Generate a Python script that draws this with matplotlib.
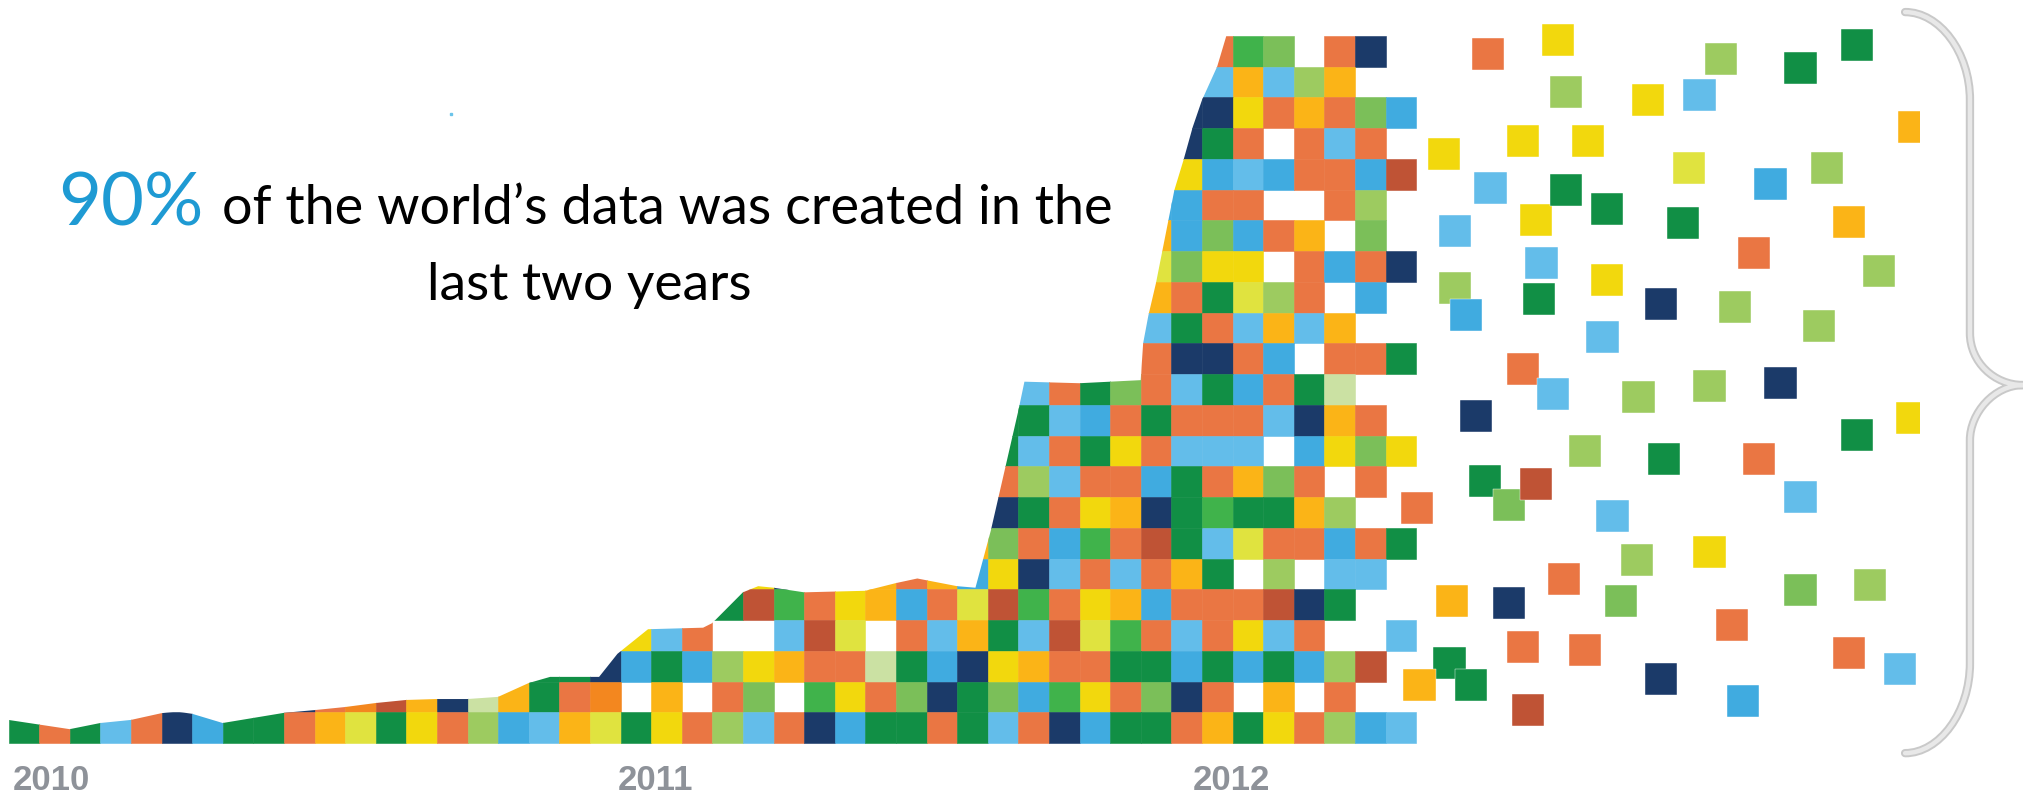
import matplotlib
matplotlib.use("Agg")
import matplotlib.pyplot as plt
from matplotlib.patches import Rectangle, Polygon, PathPatch
from matplotlib.collections import PatchCollection
from matplotlib.path import Path

# colour codes used in the mosaic
COLORS = {
    "G": "#118F45",  # dark green
    "g": "#40B34B",  # green
    "m": "#7BBF59",  # mid green
    "l": "#9DCB60",  # light green
    "c": "#CBE1A3",  # pale green
    "Y": "#F2D80D",  # yellow
    "y": "#E0E33F",  # lime yellow
    "O": "#EA7643",  # orange
    "o": "#FBB417",  # amber
    "a": "#F3871F",  # dark orange
    "R": "#BF5335",  # brick
    "B": "#40ABE0",  # blue
    "b": "#63BDEA",  # light blue
    "N": "#1B3A69",  # navy
}

# mosaic: row -> (first column, colour codes to the last column), "." = no cell
MOSAIC = {
    22: (39, "Ogm.ON."),
    21: (39, "boblo.."),
    20: (38, "NNYOoOmB"),
    19: (38, "NGO.ObO."),
    18: (38, "YBbBOOBR"),
    17: (37, "BBOO..Ol."),
    16: (37, "oBmBOo.m."),
    15: (37, "ymYY.OBON"),
    14: (37, "oOGylO.B."),
    13: (37, "bGObobo.."),
    12: (37, "ONNOB.OOG"),
    11: (33, "bOGmObGBOGc.."),
    10: (32, "GGbBOGOOObNoO."),
    9: (32, "GbOGYObbb.BYmY"),
    8: (32, "OlbOOBGOomO.O."),
    7: (32, "NGOYoNGgGGol.."),
    6: (31, "omOBgORGbyOOBOG"),
    5: (24, "YNOooOo" + "BYNbObOoG.l.bb."),
    4: (23, "GRgOYoBO" + "yRgOYoBOOORNG.."),
    3: (20, "YbO..bRy.Ob" + "oGbRygObOYbO..b"),
    2: (17, "GGNBGBlYoOOcGB" + "NYoOOGGBGBGBlR."),
    1: (9, "NOaRoNcoGOa.o.Om.gYOmN" + "GmBgYOmNO.o.O.."),
    0: (0, "GOGbONBGGOoyGYO" + "lBboyGYOlbONBGGO" + "GbONBGGOoGYOlBb"),
}

# top outline of the data volume (column, rows)
env_x = [0, 1, 2, 3, 4, 5, 5.5, 6, 7, 9, 10, 11, 12, 13, 14, 15, 16, 17, 17.7,
         19.3, 19.9, 20.9, 22.7, 23.0, 24.0, 24.5, 25.0, 26.0, 28.0, 29.0, 29.7,
         31.0, 31.6, 32.1, 33.0, 33.2, 35.0, 37.0, 37.08, 37.25, 37.5, 38.1,
         38.4, 38.7, 39.0, 39.5, 39.8]
env_y = [0.75, 0.6, 0.45, 0.65, 0.75, 0.97, 1.02, 0.95, 0.65, 0.98, 1.07, 1.17,
         1.3, 1.4, 1.43, 1.43, 1.5, 1.95, 2.15, 2.15, 2.9, 3.7, 3.75, 3.9, 4.9,
         5.1, 5.05, 4.9, 4.95, 5.2, 5.35, 5.1, 5.05, 6.9, 10.8, 11.75, 11.7,
         11.8, 13.0, 13.9, 14.96, 17.98, 18.96, 20.03, 20.9, 22.0, 23.0]

# scattered squares (centre column, centre row, colour code)
sq_x = [48.35, 50.64, 55.96, 58.55, 50.90, 53.58, 55.25, 46.91, 49.49, 51.62,
        54.92, 57.57, 59.43, 48.42, 49.92, 50.90, 52.24, 54.72, 47.27, 57.04,
        50.11, 52.24, 47.27, 47.63, 50.02, 54.00, 56.42, 59.17, 52.08, 49.49,
        50.47, 53.28, 55.60, 57.92, 47.96, 51.52, 54.10, 57.21, 48.25, 49.04,
        49.92, 46.03, 52.43, 58.55, 53.22, 55.60, 50.83, 47.17, 49.04, 52.70,
        58.55, 56.32, 49.49, 51.52, 47.08, 47.79, 46.10, 54.00, 56.68, 49.66,
        60.41, 62.27, 60.15, 61.13, 60.41, 62.21, 60.83, 60.15, 61.81]
sq_y = [22.41, 22.86, 22.24, 21.95, 21.17, 20.91, 21.07, 19.15, 19.58, 19.58,
        18.70, 18.18, 18.70, 18.05, 17.01, 17.98, 17.37, 16.91, 16.65, 15.93,
        15.61, 15.06, 14.80, 13.92, 14.44, 14.28, 14.18, 13.56, 13.20, 12.16,
        11.35, 11.25, 11.61, 11.71, 10.63, 9.50, 9.24, 9.24, 8.52, 7.74,
        8.42, 7.64, 7.38, 8.00, 5.95, 6.21, 5.33, 4.62, 4.55, 4.62,
        4.98, 3.84, 3.12, 3.02, 2.60, 1.89, 1.89, 2.08, 1.37, 1.07,
        22.70, 20.03, 16.94, 15.35, 10.02, 10.57, 5.14, 2.93, 2.41]
sq_c = "OYlGlYbYYYyBlbYGGGbObYlBGNllbObllNNlGOGmRObblYOoNmmOOOGGoNBR" + "GoolGYlOb"

years = ["2010", "2011", "2012"]
year_col = [0.15, 19.9, 38.7]

# pixel geometry of the picture
W, H = 2028, 795
CELL_W, CELL_H = 30.6, 30.75
X0, Y0 = 8.5, 743.0

fig = plt.figure(figsize=(W / 100, H / 100), dpi=100)
ax = fig.add_axes([0, 0, 1, 1])
ax.set_xlim(-X0 / CELL_W, (W - X0) / CELL_W)
ax.set_ylim((Y0 - H) / CELL_H, Y0 / CELL_H)
ax.axis("off")

# mosaic cells clipped by the outline
cells, cols = [], []
for row, (c0, codes) in MOSAIC.items():
    for k, code in enumerate(codes):
        if code == ".":
            continue
        cells.append(Rectangle((c0 + k, row), 1, 1))
        cols.append(COLORS[code])
pc = PatchCollection(cells, facecolor=cols, edgecolor=cols, linewidth=0.4)
ax.add_collection(pc)

outline = list(zip(env_x, env_y)) + [(47, 23.5), (47, -0.05), (0, -0.05)]
clip = Polygon(outline, closed=True, fc="none", ec="none")
ax.add_patch(clip)
pc.set_clip_path(clip)

# scattered squares, cut off at the old picture edge
sw, sh = 1.07, 1.06
sq = [Rectangle((x - sw / 2, y - sh / 2), sw, sh) for x, y in zip(sq_x, sq_y)]
sq_cols = [COLORS[c] for c in sq_c]
sc = PatchCollection(sq, facecolor=sq_cols, edgecolor="white", linewidth=0.3)
ax.add_collection(sc)
edge = Rectangle((40, -5), 62.47 - 40, 35, fc="none", ec="none")
ax.add_patch(edge)
sc.set_clip_path(edge)

# curly brace
verts = [(61.98, 23.77), (63.1, 23.77), (64.1, 22.47), (64.1, 20.91),
         (64.1, 13.33),
         (64.1, 12.39), (64.89, 11.64), (65.83, 11.64),
         (64.89, 11.64), (64.1, 10.73), (64.1, 9.85),
         (64.1, 2.6),
         (64.1, 1.0), (63.1, -0.33), (61.98, -0.33)]
codes = [Path.MOVETO, Path.CURVE4, Path.CURVE4, Path.CURVE4, Path.LINETO,
         Path.CURVE4, Path.CURVE4, Path.CURVE4, Path.CURVE4, Path.CURVE4,
         Path.CURVE4, Path.LINETO, Path.CURVE4, Path.CURVE4, Path.CURVE4]
brace = Path(verts, codes)
ax.add_patch(PathPatch(brace, fc="none", ec="#C9C9C9", lw=6, capstyle="round"))
ax.add_patch(PathPatch(brace, fc="none", ec="#E8E8E8", lw=3.2, capstyle="round"))

# small stray dot
ax.plot([14.46], [20.46], marker="s", ms=1.5, color="#6BC4EA", lw=0)

for name, c in zip(years, year_col):
    ax.text(c, -1.52, name, fontsize=25, color="#8E9299", family="Liberation Sans",
            fontweight="bold", ha="left", va="baseline")

# headline, sized to fit the reference widths
renderer = fig.canvas.get_renderer()


def fit_text(x_px, y_px, s, width_px, **kw):
    t = fig.text(x_px / W, 1 - y_px / H, s, va="baseline", **kw)
    w = t.get_window_extent(renderer).width
    t.set_fontsize(t.get_fontsize() * width_px / w)
    return t


fit_text(58, 226, "90%", 145, fontsize=48, color="#1E9AD3", family="Lato")
fit_text(222, 224, "of the world\u2019s data was created in the", 893,
         fontsize=32, color="black", family="Lato")
fit_text(427, 300, "last two years", 326, fontsize=32, color="black", family="Lato")

fig.savefig("out.png", dpi=100)
